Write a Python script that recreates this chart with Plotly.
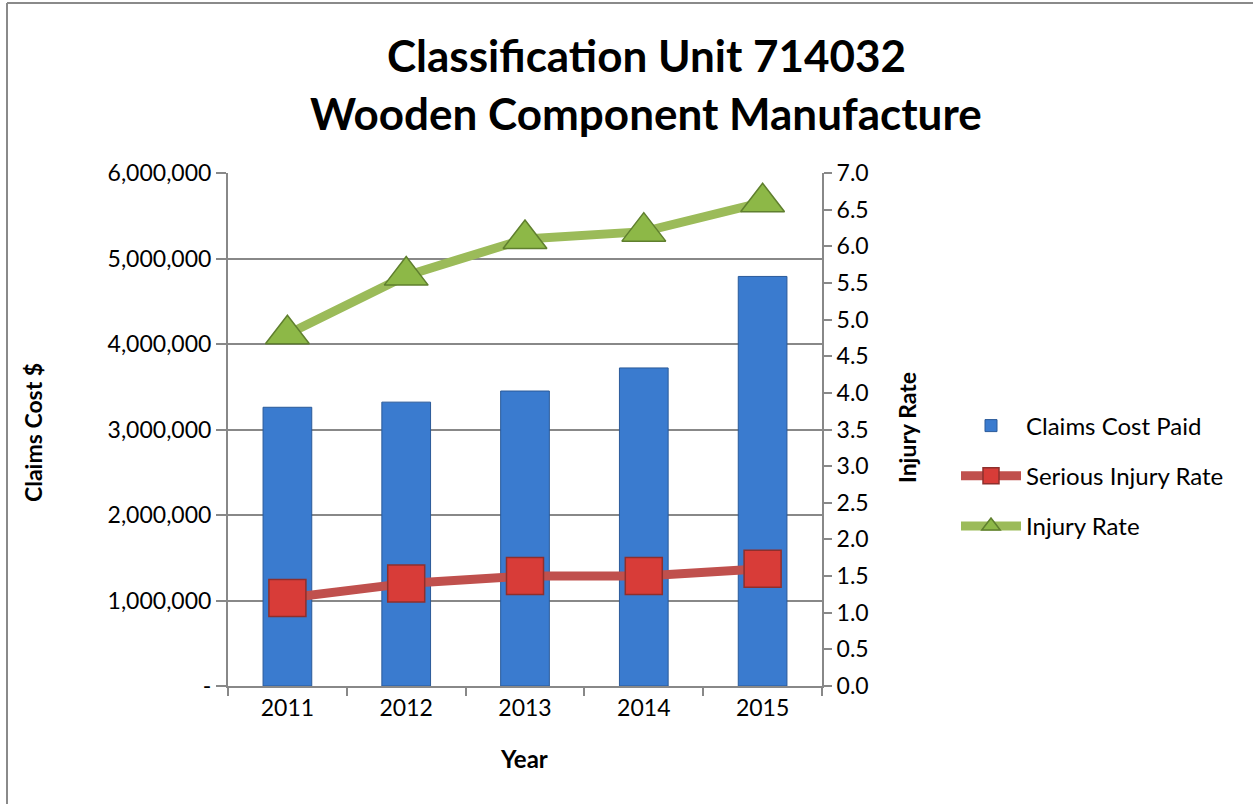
import plotly.graph_objects as go

years = ["2011", "2012", "2013", "2014", "2015"]
claims_cost = [3260000, 3320000, 3450000, 3720000, 4790000]
serious_injury_rate = [1.2, 1.4, 1.5, 1.5, 1.6]
injury_rate = [4.8, 5.6, 6.1, 6.2, 6.6]
left_ticks = [0, 1000000, 2000000, 3000000, 4000000, 5000000, 6000000]
left_ticktext = ["-", "1,000,000", "2,000,000", "3,000,000", "4,000,000", "5,000,000", "6,000,000"]

FONT = "Lato"
W, H = 1253, 804
# plot area in page pixels: x 228..822, y 173..686
L, T = 228, 173
R = W - 822
B = H - 686
pw, ph = W - L - R, H - T - B

def px_x(x):
    return (x - L) / pw

def px_y(y):
    return (H - B - y) / ph

fig = go.Figure()
fig.add_trace(go.Bar(
    x=years, y=claims_cost, name="Claims Cost Paid", width=0.41,
    marker=dict(color="#3a7bcf", line=dict(color="#2a5a99", width=1)),
    legendgroup="a", yaxis="y",
))
fig.add_trace(go.Scatter(
    x=years, y=serious_injury_rate, name="Serious Injury Rate", mode="lines+markers",
    line=dict(color="#c0504d", width=9),
    marker=dict(symbol="square", size=37, color="#d83c38", line=dict(color="#8e2f2c", width=1.5)),
    legendgroup="b", yaxis="y2",
))
fig.add_trace(go.Scatter(
    x=years, y=injury_rate, name="Injury Rate", mode="lines+markers",
    line=dict(color="#9bbb59", width=9),
    marker=dict(symbol="triangle-up", size=38, color="#8db847", line=dict(color="#5f7f2e", width=1.5)),
    legendgroup="c", yaxis="y2",
))

axis_col = "#888888"
fig.update_layout(
    width=W, height=H,
    margin=dict(l=L, r=R, t=T, b=B),
    paper_bgcolor="white", plot_bgcolor="white",
    font=dict(family=FONT, size=23, color="black"),
    showlegend=True,
    legend=dict(x=px_x(956), y=px_y(476), xanchor="left", yanchor="middle",
                traceorder="grouped", tracegroupgap=16, itemwidth=60,
                font=dict(family=FONT, size=24), bgcolor="rgba(0,0,0,0)"),
    xaxis=dict(type="category", showline=True, linecolor=axis_col, linewidth=2,
               ticks="outside", ticklen=8, tickcolor=axis_col, tickwidth=2,
               tickson="boundaries", showgrid=False, tickfont=dict(size=23)),
    yaxis=dict(range=[0, 6000000], tickvals=left_ticks, ticktext=left_ticktext,
               showline=True, linecolor=axis_col, linewidth=2,
               ticks="outside", ticklen=10, tickcolor=axis_col, tickwidth=2,
               showgrid=True, gridcolor=axis_col, gridwidth=2, zeroline=False,
               tickfont=dict(size=23)),
    yaxis2=dict(range=[0, 7], dtick=0.5, tick0=0, tickformat=".1f", overlaying="y", side="right",
                showline=True, linecolor=axis_col, linewidth=2,
                ticks="outside", ticklen=8, tickcolor=axis_col, tickwidth=2,
                showgrid=False, zeroline=False, tickfont=dict(size=23)),
)

annotations = [
    dict(text="<b>Classification Unit 714032</b>", x=px_x(646), y=px_y(55), font=dict(size=44)),
    dict(text="<b>Wooden Component Manufacture</b>", x=px_x(646), y=px_y(113), font=dict(size=44)),
    dict(text="<b>Claims Cost $</b>", x=px_x(33), y=px_y(433), textangle=-90, font=dict(size=23)),
    dict(text="<b>Injury Rate</b>", x=px_x(907), y=px_y(428), textangle=-90, font=dict(size=23)),
    dict(text="<b>Year</b>", x=px_x(524), y=px_y(758), font=dict(size=24)),
]
for a in annotations:
    a.update(xref="paper", yref="paper", showarrow=False, xanchor="center", yanchor="middle")
    a["font"]["family"] = FONT
    a["font"]["color"] = "black"
fig.update_layout(annotations=annotations)

# chart-area border (top and left edges visible)
fig.add_shape(type="line", xref="paper", yref="paper", x0=px_x(7), x1=px_x(1270), y0=px_y(3), y1=px_y(3),
              line=dict(color="#8a8a8a", width=2))
fig.add_shape(type="line", xref="paper", yref="paper", x0=px_x(7), x1=px_x(7), y0=px_y(3), y1=px_y(820),
              line=dict(color="#8a8a8a", width=2))

fig.write_html("out.html", config={"displayModeBar": False},
               post_script="document.body.style.margin='0';document.body.style.overflow='hidden';")
